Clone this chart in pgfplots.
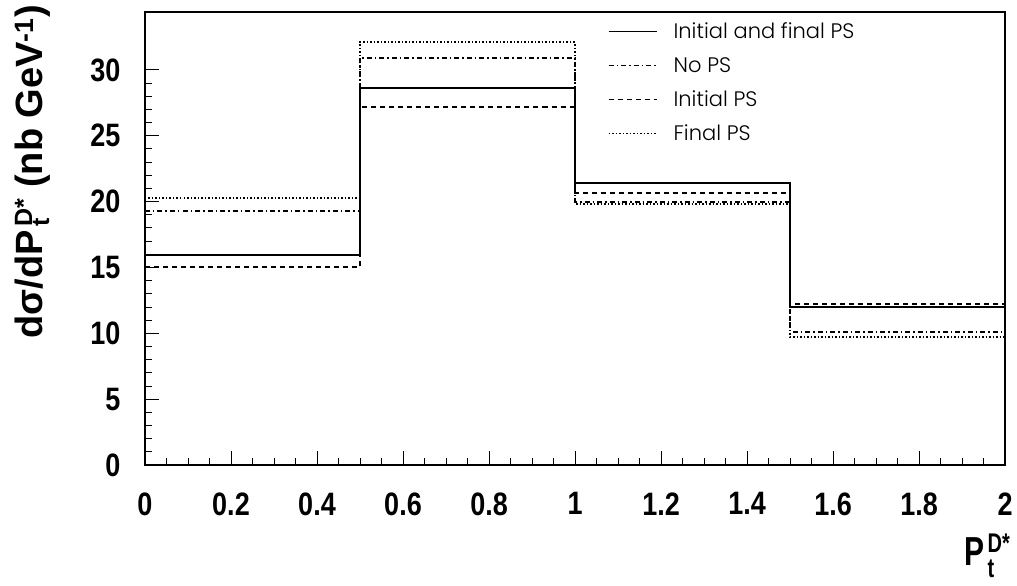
\documentclass[border=0pt]{standalone}
\usepackage{fontspec}
\setmainfont{Liberation Sans}
\newfontfamily\legfont{Poppins}[UprightFont=* Light]
\usepackage{pgfplots}
\pgfplotsset{compat=1.18}
\newcommand\tall[2][1.2]{\scalebox{1}[#1]{#2}}
% P with subscript t and superscript D*, sizes in pt: #1 index size, #2 raise, #3 lower
\newcommand\Ptd[3]{P\rlap{\raisebox{-#3}{\fontsize{#1}{#1}\selectfont\,t}}%
  \raisebox{#2}{\fontsize{#1}{#1}\selectfont\,D*}}

\begin{document}
\begin{tikzpicture}
  \begin{axis}[
      scale only axis,
      width=860pt, height=453pt,
      xmin=0, xmax=2, ymin=0, ymax=34.4,
      clip=false,
      axis line style={line width=1.6pt},
      tick align=inside, tick pos=left,
      xtick={0,0.2,...,2.01}, minor x tick num=3,
      ytick={0,5,...,30}, minor y tick num=4,
      major tick length=14pt, minor tick length=7pt,
      every tick/.style={black, line width=1pt},
      /pgf/number format/assume math mode=true,
      ticklabel style={font=\bfseries\fontsize{27}{30}\selectfont},
      xticklabel={\tall{\pgfmathprintnumber{\tick}}},
      yticklabel={\tall{\pgfmathprintnumber{\tick}}},
      xticklabel style={yshift=-24pt},
      yticklabel style={xshift=-21pt},
      ylabel={dσ/d\Ptd{25}{10pt}{7pt} (nb GeV\textsuperscript{-1})},
      ylabel style={font=\bfseries\fontsize{38}{40}\selectfont,
        at={(axis description cs:-0.131,0.647)}, anchor=center},
      xlabel={\tall[1.35]{\Ptd{20}{10pt}{9pt}}},
      xlabel style={font=\bfseries\fontsize{30}{32}\selectfont, inner sep=0pt,
        at={(axis description cs:1.0058,-0.222)}, anchor=base east},
      legend style={at={(axis description cs:0.535,0.985)}, anchor=north west,
        draw=none, fill=none, font=\legfont\fontsize{21}{23}\selectfont,
        row sep=13pt, legend cell align=left},
      legend image code/.code={\draw[#1, line width=0.8pt] (0pt,0pt) -- (48pt,0pt);
        \path (62pt,0pt);},
    ]
    % Initial and final PS
    \addplot[const plot, black, line width=1.8pt] coordinates
      {(0,15.95) (0.5,28.65) (1,21.39) (1.5,12.02) (2,12.02)};
    % No PS
    \addplot[const plot, black, line width=1.8pt,
      dash pattern=on 5pt off 3pt on 1.5pt off 3pt] coordinates
      {(0,19.29) (0.5,30.93) (1,19.95) (1.5,10.12) (2,10.12)};
    % Initial PS
    \addplot[const plot, black, line width=1.8pt, dash pattern=on 5pt off 4pt] coordinates
      {(0,15.01) (0.5,27.2) (1,20.68) (1.5,12.2) (2,12.2)};
    % Final PS
    \addplot[const plot, black, line width=1.8pt, dash pattern=on 1.5pt off 2pt] coordinates
      {(0,20.25) (0.5,32.1) (1,19.8) (1.5,9.7) (2,9.7)};
    \legend{Initial and final PS, No PS, Initial PS, Final PS}
    \path (rel axis cs:-0.1686,-0.2649) (rel axis cs:1.0139,1.0265);
  \end{axis}
\end{tikzpicture}
\end{document}
